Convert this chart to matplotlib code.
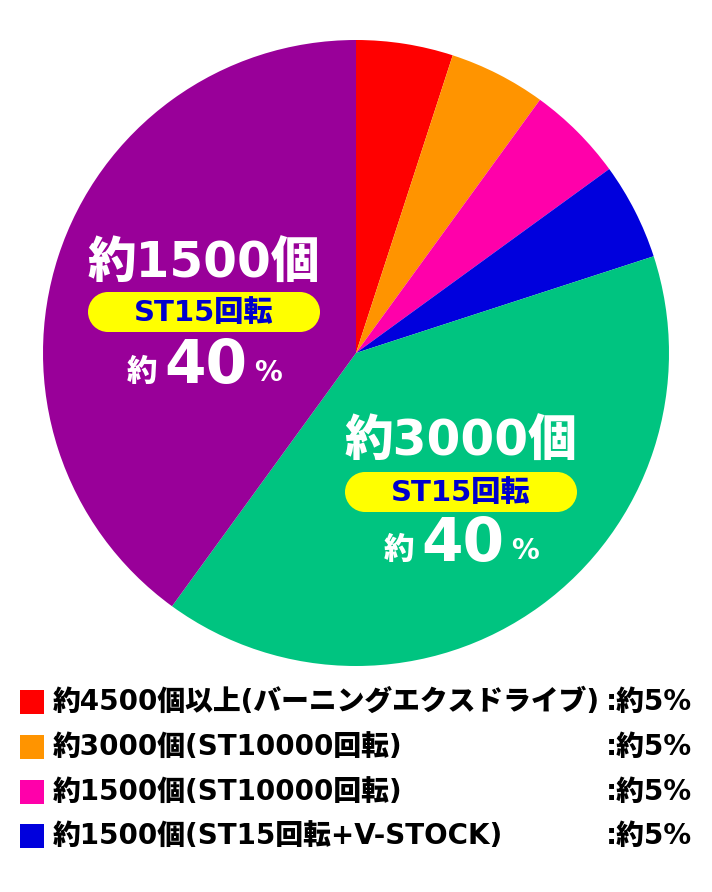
import matplotlib
matplotlib.use("Agg")
import matplotlib.pyplot as plt
from matplotlib.patches import Rectangle, Circle

plt.rcParams['font.family'] = ['DejaVu Sans', 'Noto Sans CJK JP']

# ---- data ----
shares = [5, 5, 5, 5, 40, 40]
colors = ['#FF0000', '#FF9400', '#FF00AA', '#0000DD', '#00C480', '#990099']
legend_labels = ['約4500個以上(バーニングエクスドライブ)', '約3000個(ST10000回転)',
                 '約1500個(ST10000回転)', '約1500個(ST15回転+V-STOCK)']
legend_values = [':約5%', ':約5%', ':約5%', ':約5%']
big_labels = ['約1500個', '約3000個']
pill_labels = ['ST15回転', 'ST15回転']
pct_labels = ['40', '40']

W, H = 712, 892
fig = plt.figure(figsize=(W / 100, H / 100), dpi=100)

# pie axes in pixel coordinates (y up)
pax = fig.add_axes([0, 0, 1, 1])
pax.pie(shares, colors=colors, startangle=90, counterclock=False,
        center=(356, H - 353), radius=313, frame=True,
        wedgeprops=dict(linewidth=0))
pax.set_xlim(0, W)
pax.set_ylim(0, H)
pax.axis('off')

# overlay axes for texts (pixel coords, y down)
tax = fig.add_axes([0, 0, 1, 1])
tax.set_xlim(0, W)
tax.set_ylim(H, 0)
tax.axis('off')

# slice labels
label_pos = [(204, 264, 312, 367), (461, 442, 492, 545)]
for (cx, yb, yp, yc), bl, pl, pc in zip(label_pos, big_labels, pill_labels, pct_labels):
    tax.text(cx, yb, bl, color='white', fontsize=35, fontweight='heavy',
             ha='center', va='center')
    pw, ph = 232, 40
    tax.add_patch(Rectangle((cx - pw / 2 + ph / 2, yp - ph / 2), pw - ph, ph,
                            facecolor='#FFFF00', edgecolor='none'))
    tax.add_patch(Circle((cx - pw / 2 + ph / 2, yp), ph / 2, facecolor='#FFFF00', edgecolor='none'))
    tax.add_patch(Circle((cx + pw / 2 - ph / 2, yp), ph / 2, facecolor='#FFFF00', edgecolor='none'))
    tax.text(cx, yp + 1, pl, color='#0000CC', fontsize=21, fontweight='heavy',
             ha='center', va='center')
    tax.text(cx - 62, yc + 5, '約', color='white', fontsize=22, fontweight='heavy',
             ha='center', va='center')
    tax.text(cx + 2, yc, pc, color='white', fontsize=43, fontweight='heavy',
             ha='center', va='center')
    tax.text(cx + 64, yc + 6, '%', color='white', fontsize=20, fontweight='heavy',
             ha='center', va='center')

# legend
row_y = [702, 747, 792, 836]
for y, c, lab, val in zip(row_y, colors[:4], legend_labels, legend_values):
    tax.add_patch(Rectangle((20, y - 12), 24, 24, facecolor=c, edgecolor='none'))
    tax.text(53, y, lab, color='black', fontsize=20, fontweight='heavy',
             ha='left', va='center')
    tax.text(692, y, val, color='black', fontsize=20, fontweight='heavy',
             ha='right', va='center')

fig.savefig('out.png', dpi=100, facecolor='white')
